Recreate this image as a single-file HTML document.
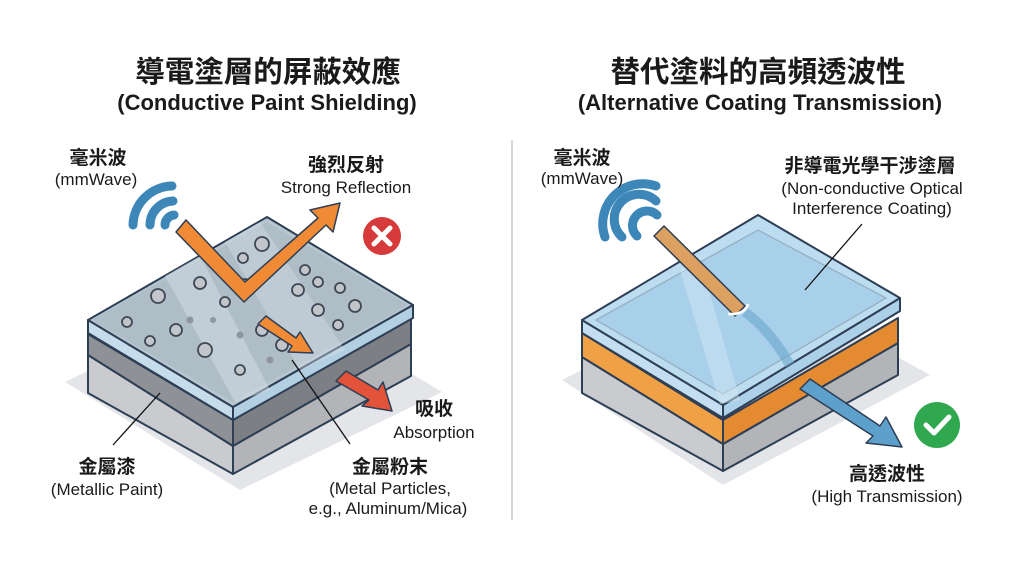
<!DOCTYPE html>
<html><head><meta charset="utf-8"><style>
html,body{margin:0;padding:0;background:#fff;}
svg{display:block;}
text{font-family:"Liberation Sans","Noto Sans CJK TC",sans-serif;fill:#1a1a1a;}
.t1{font-size:29.5px;font-weight:bold;}
.t2{font-size:22px;font-weight:bold;}
.cj{font-size:19px;font-weight:bold;}
.en{font-size:17px;}
</style></head><body>
<svg width="1024" height="572" viewBox="0 0 1024 572" xmlns="http://www.w3.org/2000/svg">
<rect width="1024" height="572" fill="#fff"/>
<text class="t1" x="268" y="82" text-anchor="middle">導電塗層的屏蔽效應</text>
<text class="t2" x="267" y="110" text-anchor="middle">(Conductive Paint Shielding)</text>
<text class="t1" x="758" y="82" text-anchor="middle">替代塗料的高頻透波性</text>
<text class="t2" x="760" y="110" text-anchor="middle">(Alternative Coating Transmission)</text>
<line x1="512" y1="140" x2="512" y2="520" stroke="#c8c8c8" stroke-width="1.5"/>

<!-- LEFT block -->
<polygon points="65,382 240,490 442,392 265,285" fill="#e3e5e8"/>
<g stroke="#2d3e55" stroke-width="2" stroke-linejoin="round">
<polygon points="88,355 233,446 233,474 88,393" fill="#c9cbce"/>
<polygon points="233,446 411,344 411,376 233,474" fill="#b2b4b8"/>
<polygon points="88,334 233,420 233,446 88,355" fill="#8e9196"/>
<polygon points="233,420 411,318 411,344 233,446" fill="#7c7f84"/>
<polygon points="88,320 233,407 233,420 88,333" fill="#c5dcea"/>
<polygon points="233,407 413,305 413,318 233,420" fill="#b3d0e3"/>
<polygon points="88,320 267,217 413,305 233,407" fill="#b8c6d0"/>
</g>
<polygon points="92,320 267,222 408,305 233,402" fill="#a9b7c2" opacity="0.6"/>
<polygon points="165,276 200,256 270,390 235,402" fill="#d6e0e8" opacity="0.5"/>
<polygon points="225,242 260,222 345,350 300,370" fill="#d6e0e8" opacity="0.4"/>
<g fill="#c2c6ca" stroke="#3e4854" stroke-width="1.8">
<circle cx="262" cy="244" r="7"/><circle cx="243" cy="258" r="5"/><circle cx="200" cy="283" r="6"/>
<circle cx="158" cy="296" r="7"/><circle cx="127" cy="322" r="5"/><circle cx="176" cy="330" r="6"/>
<circle cx="205" cy="350" r="7"/><circle cx="150" cy="341" r="5"/><circle cx="225" cy="302" r="5"/>
<circle cx="298" cy="290" r="6"/><circle cx="318" cy="282" r="5"/><circle cx="318" cy="310" r="6"/>
<circle cx="355" cy="306" r="6"/><circle cx="338" cy="325" r="5"/><circle cx="262" cy="330" r="6"/>
<circle cx="282" cy="345" r="6"/><circle cx="240" cy="370" r="5"/><circle cx="305" cy="270" r="5"/>
<circle cx="245" cy="284" r="5"/><circle cx="340" cy="288" r="5"/>
</g>
<g fill="#8e959c"><circle cx="230" cy="270" r="3.5"/><circle cx="190" cy="320" r="3.5"/><circle cx="213" cy="320" r="3"/><circle cx="240" cy="335" r="3.5"/><circle cx="270" cy="360" r="3.5"/><circle cx="290" cy="255" r="3.5"/></g>
<g fill="none" stroke="#3d86b8" stroke-width="9" stroke-linecap="round">
<path d="M133,225 A40,40 0 0 1 172,186"/>
<path d="M150,225 A24,24 0 0 1 173,201"/>
<path d="M165,225 A10,10 0 0 1 174,215"/>
</g>
<path d="M176,232 L186,220 L245,282 L318,218 L310,210 L340,203 L333,232 L326,225 L244,302 Z" fill="#f08a34" stroke="#2d3e55" stroke-width="1.5" stroke-linejoin="round"/>
<path d="M258,324 L266,316 L296,338 L300,332 L313,353 L288,352 L292,346 Z" fill="#f08a34" stroke="#2d3e55" stroke-width="1.5" stroke-linejoin="round"/>
<path d="M336,381 L346,371 L378,390 L383,382 L392,411 L362,406 L369,400 Z" fill="#e2533a" stroke="#2d3e55" stroke-width="1.5" stroke-linejoin="round"/>
<circle cx="382" cy="236" r="19" fill="#d63a3a"/>
<path d="M374,228 L390,244 M390,228 L374,244" stroke="#fff" stroke-width="5" stroke-linecap="round"/>
<line x1="113" y1="445" x2="160" y2="393" stroke="#111" stroke-width="1.3"/>
<line x1="292" y1="360" x2="350" y2="444" stroke="#111" stroke-width="1.3"/>
<text class="cj" x="98" y="164" text-anchor="middle">毫米波</text>
<text class="en" x="96" y="185" text-anchor="middle">(mmWave)</text>
<text class="cj" x="346" y="171" text-anchor="middle">強烈反射</text>
<text class="en" x="346" y="193" text-anchor="middle">Strong Reflection</text>
<text class="cj" x="434" y="415" text-anchor="middle">吸收</text>
<text class="en" x="434" y="438" text-anchor="middle">Absorption</text>
<text class="cj" x="107" y="473" text-anchor="middle">金屬漆</text>
<text class="en" x="107" y="495" text-anchor="middle">(Metallic Paint)</text>
<text class="cj" x="390" y="473" text-anchor="middle">金屬粉末</text>
<text class="en" x="390" y="494" text-anchor="middle">(Metal Particles,</text>
<text class="en" x="388" y="514" text-anchor="middle">e.g., Aluminum/Mica)</text>

<!-- RIGHT block -->
<polygon points="562,380 723,485 930,375 760,280" fill="#e3e5e8"/>
<g stroke="#2d3e55" stroke-width="2" stroke-linejoin="round">
<polygon points="582,357 723,444 723,471 582,393" fill="#c9cbce"/>
<polygon points="723,444 898,343 898,375 723,471" fill="#b2b4b8"/>
<polygon points="582,333 723,420 723,444 582,357" fill="#f0a146"/>
<polygon points="723,420 898,318 898,343 723,444" fill="#e48a30"/>
<polygon points="582,320 723,405 723,418 582,333" fill="#c2def0"/>
<polygon points="723,405 900,298 900,311 723,418" fill="#acd0e8"/>
<polygon points="582,320 758,215 900,298 723,405" fill="#bcdcf0"/>
</g>
<polygon points="596,320 758,230 886,298 723,394" fill="#a9d0ea" stroke="#93acbb" stroke-width="1.2"/>
<polygon points="680,270 700,258 740,400 720,404" fill="#d2e6f2" opacity="0.5"/>
<path d="M745,312 Q770,330 790,365" stroke="#6aa6cc" stroke-width="10" fill="none" opacity="0.6"/>
<g fill="none" stroke="#3d86b8" stroke-width="9" stroke-linecap="round">
<path d="M605,237 A40,40 0 0 1 656,186"/>
<path d="M622,237 A24,24 0 0 1 656,201"/>
<path d="M637,236 A10,10 0 0 1 657,215"/>
</g>
<path d="M654,236 L664,226 L745,306 L735,316 Z" fill="#dca060" stroke="#2d3e55" stroke-width="1.5" stroke-linejoin="round"/>
<path d="M728,314 Q745,315 748,304" stroke="#fff" stroke-width="2.5" fill="none"/>
<path d="M800,389 L810,379 L880,426 L886,417 L902,447 L866,443 L873,436 Z" fill="#5da0cc" stroke="#2d3e55" stroke-width="1.5" stroke-linejoin="round"/>
<circle cx="937" cy="425" r="23" fill="#2fa84f"/>
<path d="M926,425 L934,433 L949,417" stroke="#fff" stroke-width="5" fill="none" stroke-linecap="round" stroke-linejoin="round"/>
<line x1="862" y1="224" x2="805" y2="290" stroke="#111" stroke-width="1.3"/>
<text class="cj" x="582" y="164" text-anchor="middle">毫米波</text>
<text class="en" x="582" y="184" text-anchor="middle">(mmWave)</text>
<text class="cj" x="870" y="172" text-anchor="middle">非導電光學干涉塗層</text>
<text class="en" x="872" y="194" text-anchor="middle">(Non-conductive Optical</text>
<text class="en" x="872" y="214" text-anchor="middle">Interference Coating)</text>
<text class="cj" x="887" y="480" text-anchor="middle">高透波性</text>
<text class="en" x="887" y="502" text-anchor="middle">(High Transmission)</text>
</svg>
</body></html>
